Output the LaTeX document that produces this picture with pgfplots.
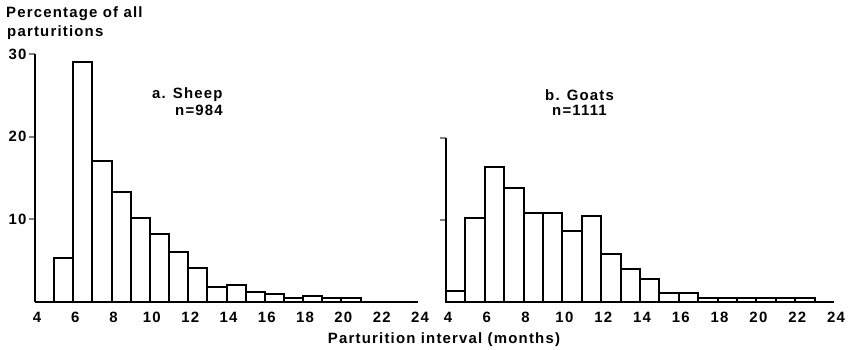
\documentclass[border=0pt]{standalone}
\usepackage{fontspec}
\setmainfont{Liberation Sans}[LetterSpace=8]
\usepackage{pgfplots}
\pgfplotsset{compat=1.18}
\begin{document}
\begin{tikzpicture}
\useasboundingbox (0,0) rectangle (848bp,350bp);
\pgfplotsset{hist/.style={
  scale only axis, anchor=south west,
  axis x line*=bottom, axis y line*=left,
  axis line style={line width=2bp, -},
  xmin=4, xmax=24, ymin=0,
  xtick={4,6,...,24}, x tick style={draw=none},
  tick align=outside, major tick length=6bp,
  y tick style={line width=2bp},
  /pgf/number format/assume math mode=true,
  tick label style={font=\fontsize{15}{17}\selectfont\bfseries},
  xticklabel style={yshift=-1bp, xshift=2bp},
  clip=false,
}}
\begin{axis}[hist, at={(35bp,48bp)}, width=383bp, height=248bp, ymax=30,
  ytick={10,20,30}, yticklabel style={xshift=1bp}]
\addplot[ybar interval, fill=white, draw=black, line width=2bp] coordinates {
(5,5.3) (6,29) (7,17) (8,13.3) (9,10.2) (10,8.2) (11,6.1) (12,4.1) (13,1.85)
(14,2.1) (15,1.25) (16,0.95) (17,0.5) (18,0.75) (19,0.5) (20,0.5) (21,0)};
\end{axis}
\begin{axis}[hist, at={(446bp,48bp)}, width=388bp, height=164bp, ymax=20,
  ytick={10,20}, yticklabels={}]
\addplot[ybar interval, fill=white, draw=black, line width=2bp] coordinates {
(4,1.4) (5,10.3) (6,16.5) (7,13.9) (8,10.9) (9,10.9) (10,8.7) (11,10.5) (12,5.85)
(13,4.05) (14,2.8) (15,1.05) (16,1.05) (17,0.5) (18,0.5) (19,0.5) (20,0.5)
(21,0.5) (22,0.5) (23,0)};
\end{axis}
\begin{scope}[every node/.style={font=\fontsize{15}{17}\selectfont\bfseries, inner sep=0pt}]
\node[anchor=west] at (6bp,336bp) {Percentage of all};
\node[anchor=west] at (7bp,317bp) {parturitions};
\node[anchor=west] at (152bp,255bp) {a. Sheep};
\node[anchor=west] at (175bp,240bp) {n=984};
\node[anchor=west] at (545bp,255bp) {b. Goats};
\node[anchor=west] at (552bp,240bp) {n=1111};
\node at (444bp,10bp) {Parturition interval (months)};
\end{scope}
\end{tikzpicture}
\end{document}
